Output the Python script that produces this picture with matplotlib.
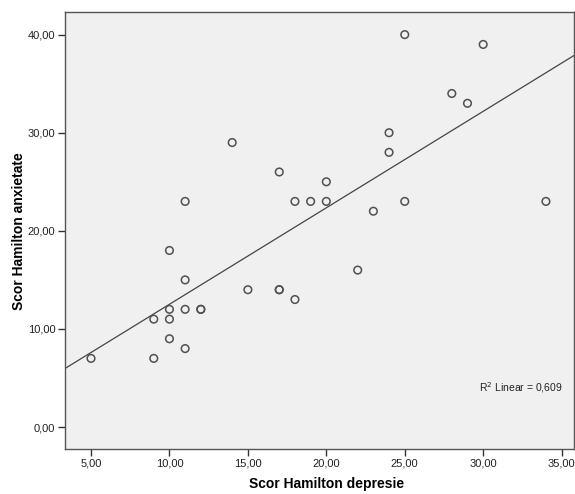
import numpy as np
import matplotlib
matplotlib.use("Agg")
import matplotlib.pyplot as plt
from matplotlib.ticker import FuncFormatter

plt.rcParams['font.family'] = ['Liberation Sans', 'DejaVu Sans']

depresie = [5, 9, 9, 10, 10, 10, 10, 11, 11, 11, 11, 12, 12, 14, 15, 17, 17, 17,
            18, 18, 19, 20, 20, 22, 23, 24, 24, 25, 25, 28, 29, 30, 34]
anxietate = [7, 7, 11, 9, 11, 12, 18, 8, 12, 15, 23, 12, 12, 29, 14, 14, 14, 26,
             13, 23, 23, 23, 25, 16, 22, 28, 30, 23, 40, 34, 33, 39, 23]
x_ticks = [5, 10, 15, 20, 25, 30, 35]
y_ticks = [0, 10, 20, 30, 40]
r2_text = "R$^2$ Linear = 0,609"

x = np.array(depresie, dtype=float)
y = np.array(anxietate, dtype=float)

fig = plt.figure(figsize=(5.75, 4.94), dpi=100)
ax = fig.add_axes([0.113, 0.091, 0.885, 0.884])
ax.set_facecolor('#f0f0f0')

ax.scatter(x, y, s=30, facecolors='none', edgecolors='#505050', linewidths=1.1, zorder=3)

xlim = (3.34, 35.78)
ylim = (-2.24, 42.27)
slope, intercept = np.polyfit(x, y, 1)
xx = np.array(xlim)
ax.plot(xx, slope * xx + intercept, color='#444444', lw=0.9, zorder=2)

ax.set_xlim(*xlim)
ax.set_ylim(*ylim)
ax.set_xticks(x_ticks)
ax.set_yticks(y_ticks)
fmt = FuncFormatter(lambda v, p: f"{v:.2f}".replace('.', ','))
ax.xaxis.set_major_formatter(fmt)
ax.yaxis.set_major_formatter(fmt)
ax.tick_params(direction='out', length=5, width=1, color='#333333',
               labelsize=8, labelcolor='#222222', pad=2)

for s in ax.spines.values():
    s.set_color('#555555')
    s.set_linewidth(1.0)

ax.set_xlabel('Scor Hamilton depresie', fontsize=10, fontweight='bold')
ax.xaxis.set_label_coords(0.515, -0.063)
ax.set_ylabel('Scor Hamilton anxietate', fontsize=10, fontweight='bold')
ax.yaxis.set_label_coords(-0.077, 0.5)

ax.text(0.813, 0.140, r2_text, transform=ax.transAxes, fontsize=7.5,
        color='#222222', va='center', ha='left')

fig.savefig('out.png', dpi=100)
